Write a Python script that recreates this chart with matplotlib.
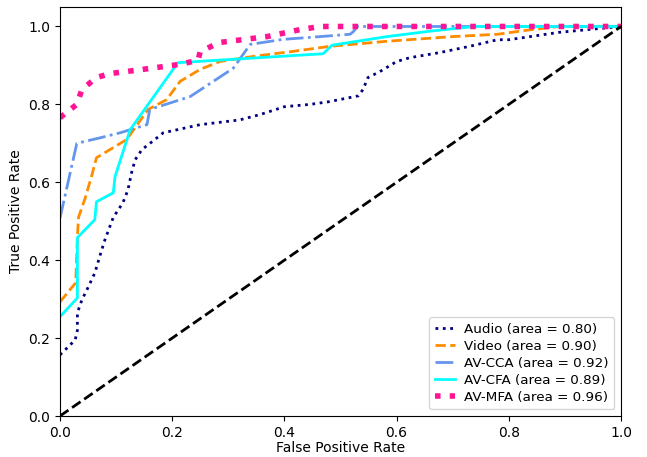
import matplotlib
matplotlib.use("Agg")
import matplotlib.pyplot as plt

audio_fpr = [0.0, 0.027, 0.031, 0.031, 0.039, 0.05, 0.062, 0.073, 0.08, 0.095, 0.112, 0.121, 0.128,
             0.134, 0.146, 0.164, 0.184, 0.25, 0.32, 0.357, 0.4, 0.446, 0.48, 0.532, 0.54, 0.549,
             0.57, 0.6, 0.624, 0.677, 0.73, 0.78, 0.8, 0.89, 1.0]
audio_tpr = [0.157, 0.195, 0.22, 0.265, 0.298, 0.33, 0.367, 0.42, 0.452, 0.51, 0.547, 0.58, 0.627,
             0.658, 0.684, 0.704, 0.727, 0.748, 0.76, 0.774, 0.794, 0.80, 0.807, 0.822, 0.838, 0.869,
             0.884, 0.91, 0.92, 0.933, 0.949, 0.966, 0.966, 0.985, 1.0]

video_fpr = [0.0, 0.028, 0.031, 0.033, 0.045, 0.056, 0.065, 0.08, 0.119, 0.157, 0.19, 0.214, 0.25,
             0.285, 0.344, 0.415, 0.481, 0.583, 0.70, 0.78, 0.83, 0.89, 1.0]
video_tpr = [0.293, 0.342, 0.46, 0.51, 0.56, 0.614, 0.663, 0.676, 0.71, 0.787, 0.812, 0.859, 0.89,
             0.91, 0.923, 0.936, 0.949, 0.962, 0.974, 0.98, 0.99, 1.0, 1.0]

cca_fpr = [0.0, 0.03, 0.071, 0.107, 0.155, 0.16, 0.232, 0.309, 0.339, 0.398, 0.446, 0.517, 0.523, 0.53, 1.0]
cca_tpr = [0.508, 0.70, 0.714, 0.727, 0.748, 0.787, 0.82, 0.893, 0.954, 0.967, 0.972, 0.98, 0.987, 1.0, 1.0]

cfa_fpr = [0.0, 0.031, 0.031, 0.062, 0.065, 0.095, 0.098, 0.125, 0.21, 0.469, 0.485, 0.583, 0.66, 0.74, 1.0]
cfa_tpr = [0.255, 0.303, 0.458, 0.504, 0.55, 0.573, 0.614, 0.735, 0.907, 0.93, 0.952, 0.974, 0.988, 1.0, 1.0]

mfa_fpr = [0.0, 0.03, 0.039, 0.065, 0.089, 0.143, 0.21, 0.246, 0.25, 0.285, 0.369, 0.428, 0.464, 1.0]
mfa_tpr = [0.766, 0.80, 0.838, 0.869, 0.879, 0.889, 0.902, 0.913, 0.936, 0.959, 0.974, 0.992, 1.0, 1.0]

labels = ["Audio (area = 0.80)", "Video (area = 0.90)", "AV-CCA (area = 0.92)",
          "AV-CFA (area = 0.89)", "AV-MFA (area = 0.96)"]

fig = plt.figure(figsize=(6.47, 4.57), dpi=100)
ax = fig.add_axes([60/647, 1-416/457, 561/647, 409/457])

ax.plot(audio_fpr, audio_tpr, color="navy", linestyle=":", lw=2, label=labels[0])
ax.plot(video_fpr, video_tpr, color="darkorange", linestyle="--", lw=2, label=labels[1])
ax.plot(cca_fpr, cca_tpr, color="cornflowerblue", linestyle="-.", lw=2, label=labels[2])
ax.plot(cfa_fpr, cfa_tpr, color="aqua", linestyle="-", lw=2, label=labels[3])
ax.plot(mfa_fpr, mfa_tpr, color="deeppink", linestyle=":", lw=4, label=labels[4])
ax.plot([0, 1], [0, 1], color="black", linestyle="--", lw=2)

ax.set_xlim(0.0, 1.0)
ax.set_ylim(0.0, 1.05)
ax.set_xlabel("False Positive Rate", labelpad=1)
ax.set_ylabel("True Positive Rate")
ax.legend(loc="lower right", handlelength=1.5, handletextpad=0.7, borderpad=0.4,
          labelspacing=0.3, fontsize=9.7)
fig.savefig("out.png", dpi=100)
